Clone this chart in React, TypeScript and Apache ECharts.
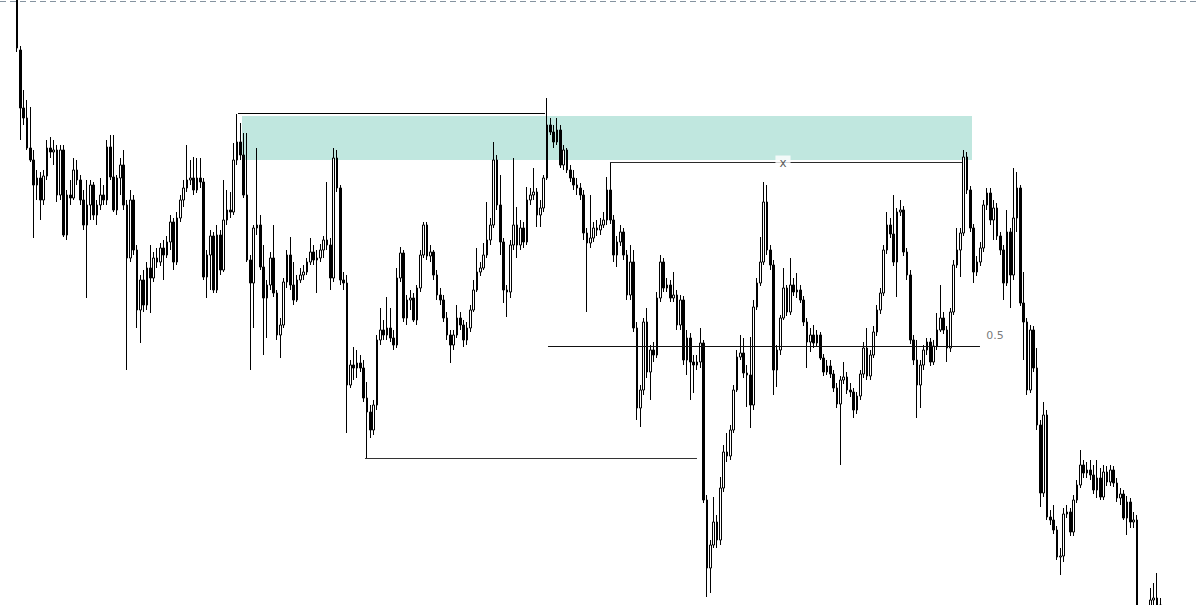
import React, { useEffect, useRef } from "react";
import * as echarts from "echarts";

// Each candle: [open, close, extreme1, extreme2] on an inverted price scale
// (larger number = lower price).
const seg1 = [
  [0, 48, -6, 52], [50, 108, 46, 140], [108, 118, 90, 125], [118, 148, 100, 150], [148, 160, 107, 162],
  [160, 185, 150, 238], [185, 178, 170, 200], [178, 200, 172, 220], [200, 176, 170, 205], [176, 148, 140, 180],
  [148, 152, 137, 158], [152, 150, 140, 165], [150, 195, 145, 202], [195, 150, 145, 200], [150, 235, 145, 237],
  [235, 195, 190, 240], [195, 198, 180, 205], [198, 170, 158, 200], [170, 180, 160, 185], [180, 200, 175, 205],
  [200, 225, 190, 230], [225, 205, 180, 298], [205, 185, 180, 220], [185, 215, 182, 220], [215, 205, 200, 225],
  [205, 195, 178, 210], [195, 200, 185, 205], [200, 147, 140, 205], [147, 177, 135, 180], [177, 210, 135, 212],
];
const seg2 = [
  [210, 178, 175, 215], [178, 165, 158, 195], [165, 205, 150, 210], [205, 258, 200, 370], [258, 200, 190, 262],
  [200, 250, 195, 255], [250, 310, 245, 328], [310, 280, 275, 343], [280, 305, 270, 312], [305, 268, 262, 310],
  [268, 278, 245, 313], [278, 258, 252, 282], [258, 262, 248, 268], [262, 248, 243, 266], [248, 255, 240, 280],
  [255, 242, 236, 258], [242, 222, 215, 250], [222, 262, 218, 270], [262, 218, 212, 265], [218, 200, 195, 222],
  [200, 188, 180, 207], [188, 180, 145, 192], [180, 178, 160, 185], [178, 190, 157, 195], [190, 178, 158, 193],
  [178, 182, 158, 188], [182, 277, 178, 280], [277, 255, 250, 298], [255, 236, 230, 290], [236, 290, 232, 293],
];
const seg3 = [
  [290, 235, 225, 293], [235, 270, 230, 275], [270, 220, 180, 272], [220, 210, 190, 225], [210, 212, 192, 218],
  [212, 160, 143, 215], [160, 142, 114, 165], [142, 155, 123, 160], [155, 195, 133, 198], [195, 260, 133, 262],
  [260, 283, 255, 370], [283, 228, 225, 328], [228, 225, 148, 235], [225, 267, 215, 270], [267, 298, 245, 355],
  [298, 285, 280, 338], [285, 258, 252, 290], [258, 293, 225, 297], [293, 335, 290, 340], [335, 325, 318, 358],
  [325, 282, 278, 328], [282, 255, 250, 288], [255, 285, 237, 290], [285, 300, 262, 305], [300, 280, 275, 302],
  [280, 275, 268, 283], [275, 272, 265, 280], [272, 262, 258, 275], [262, 252, 238, 265], [252, 260, 245, 265],
];
const seg4 = [
  [260, 258, 250, 293], [258, 250, 244, 262], [250, 240, 236, 258], [240, 245, 182, 250], [245, 278, 238, 290],
  [278, 158, 148, 282], [158, 188, 150, 192], [188, 280, 185, 285], [280, 283, 272, 290], [283, 385, 275, 433],
  [385, 365, 360, 388], [365, 368, 347, 380], [368, 363, 350, 378], [363, 368, 355, 372], [368, 398, 360, 402],
  [398, 412, 382, 458], [412, 430, 405, 438], [430, 405, 400, 435], [405, 340, 335, 410], [340, 330, 308, 345],
  [330, 335, 320, 340], [335, 328, 297, 340], [328, 338, 308, 342], [338, 345, 330, 350], [345, 278, 268, 348],
  [278, 253, 247, 282], [253, 318, 250, 322], [318, 300, 295, 325], [300, 298, 290, 310], [298, 320, 293, 322],
];
const seg5 = [
  [320, 288, 285, 325], [288, 255, 250, 292], [255, 225, 222, 258], [225, 256, 222, 260], [256, 252, 245, 262],
  [252, 275, 250, 280], [275, 295, 270, 300], [295, 300, 288, 305], [300, 318, 295, 322], [318, 335, 312, 340],
  [335, 345, 330, 363], [345, 335, 330, 350], [335, 318, 305, 338], [318, 325, 312, 330], [325, 340, 320, 347],
  [340, 328, 322, 345], [328, 310, 305, 332], [310, 290, 280, 312], [290, 272, 248, 292], [272, 268, 262, 276],
  [268, 255, 243, 270], [255, 240, 202, 258], [240, 225, 218, 245], [225, 160, 142, 228], [160, 205, 155, 210],
  [205, 242, 175, 255], [242, 290, 238, 303], [290, 292, 285, 317], [292, 245, 240, 298], [245, 225, 158, 250],
];
const seg6 = [
  [225, 245, 207, 258], [245, 228, 220, 250], [228, 242, 222, 248], [242, 200, 187, 245], [200, 195, 188, 205],
  [195, 192, 168, 200], [192, 215, 188, 227], [215, 208, 200, 227], [208, 178, 175, 212], [178, 125, 98, 180],
  [125, 132, 118, 135], [132, 142, 125, 148], [142, 130, 118, 145], [130, 165, 125, 168], [165, 150, 145, 170],
  [150, 170, 148, 173], [170, 178, 165, 182], [178, 185, 170, 190], [185, 188, 178, 195], [188, 195, 183, 200],
  [195, 233, 190, 240], [233, 243, 228, 312], [243, 238, 195, 248], [238, 228, 222, 242], [228, 230, 220, 236],
  [230, 225, 218, 235], [225, 220, 212, 228], [220, 190, 177, 225], [190, 220, 163, 224], [220, 255, 215, 262],
];
const seg7 = [
  [255, 242, 236, 267], [242, 232, 225, 246], [232, 255, 228, 260], [255, 295, 250, 300], [295, 262, 245, 300],
  [262, 328, 250, 332], [328, 408, 322, 420], [408, 390, 385, 427], [390, 322, 318, 395], [322, 372, 308, 378],
  [372, 350, 345, 400], [350, 355, 342, 362], [355, 298, 292, 358], [298, 262, 255, 302], [262, 288, 258, 292],
  [288, 285, 278, 292], [285, 298, 280, 302], [298, 295, 272, 302], [295, 325, 290, 330], [325, 300, 295, 330],
  [300, 360, 296, 365], [360, 338, 330, 375], [338, 362, 333, 400], [362, 365, 355, 393], [365, 362, 355, 370],
  [362, 343, 328, 368], [343, 500, 340, 503], [500, 568, 495, 597], [568, 545, 540, 593], [545, 522, 497, 548],
];
const seg8 = [
  [522, 540, 515, 548], [540, 488, 477, 545], [488, 452, 445, 492], [452, 456, 433, 462], [456, 430, 425, 460],
  [430, 390, 385, 433], [390, 357, 350, 392], [357, 353, 335, 360], [353, 373, 338, 378], [373, 375, 365, 407],
  [375, 405, 337, 428], [405, 307, 300, 410], [307, 283, 278, 310], [283, 262, 237, 286], [262, 202, 182, 265],
  [202, 250, 185, 255], [250, 265, 245, 270], [265, 370, 260, 395], [370, 350, 345, 387], [350, 318, 315, 355],
  [318, 288, 268, 320], [288, 312, 285, 316], [312, 285, 258, 315], [285, 292, 278, 296], [292, 290, 273, 298],
  [290, 300, 285, 303], [300, 322, 296, 326], [322, 342, 318, 368], [342, 335, 328, 352], [335, 343, 325, 348],
];
const seg9 = [
  [343, 335, 330, 347], [335, 358, 332, 360], [358, 372, 354, 376], [372, 366, 360, 375], [366, 374, 360, 378],
  [374, 388, 370, 392], [388, 404, 383, 408], [404, 380, 376, 465], [380, 377, 362, 384], [377, 390, 372, 394],
  [390, 392, 383, 397], [392, 410, 388, 418], [410, 396, 392, 414], [396, 374, 370, 400], [374, 348, 342, 378],
  [348, 376, 328, 380], [376, 355, 350, 380], [355, 332, 326, 358], [332, 310, 305, 336], [310, 293, 288, 314],
  [293, 250, 245, 296], [250, 225, 212, 254], [225, 234, 218, 238], [234, 262, 195, 266], [262, 212, 208, 297],
  [212, 210, 200, 216], [210, 252, 206, 256], [252, 275, 248, 280], [275, 340, 270, 344], [340, 360, 335, 365],
];
const seg10 = [
  [360, 385, 340, 418], [385, 365, 360, 408], [365, 350, 345, 370], [350, 342, 338, 355], [342, 362, 338, 366],
  [362, 346, 340, 365], [346, 330, 313, 350], [330, 318, 285, 332], [318, 330, 312, 334], [330, 348, 326, 362],
  [348, 312, 308, 352], [312, 265, 260, 315], [265, 250, 228, 268], [250, 233, 228, 277], [233, 157, 150, 236],
  [157, 190, 152, 194], [190, 228, 186, 232], [228, 272, 224, 283], [272, 262, 256, 276], [262, 248, 242, 266],
  [248, 205, 200, 252], [205, 193, 188, 210], [193, 220, 188, 225], [220, 208, 200, 240], [208, 236, 203, 240],
  [236, 250, 232, 255], [250, 283, 245, 300], [283, 232, 210, 286], [232, 275, 228, 308], [275, 218, 168, 280],
];
const seg11 = [
  [218, 188, 172, 232], [188, 303, 185, 306], [303, 322, 272, 360], [322, 390, 318, 395], [390, 330, 325, 393],
  [330, 368, 326, 372], [368, 425, 348, 430], [425, 493, 420, 507], [493, 415, 402, 497], [415, 517, 410, 520],
  [517, 520, 510, 525], [520, 530, 505, 534], [530, 557, 526, 560], [557, 556, 548, 575], [556, 514, 508, 562],
  [514, 512, 505, 518], [512, 532, 508, 536], [532, 500, 495, 536], [500, 485, 480, 503], [485, 465, 450, 488],
  [465, 473, 460, 478], [473, 470, 462, 478], [470, 475, 460, 480], [475, 490, 465, 494], [490, 478, 460, 498],
  [478, 497, 468, 500], [497, 472, 465, 500], [472, 482, 466, 486], [482, 470, 465, 486], [470, 483, 466, 487],
];
const seg12 = [
  [483, 498, 478, 502], [498, 494, 488, 505], [494, 518, 490, 520], [518, 502, 496, 535], [502, 522, 498, 528],
  [522, 520, 512, 528], [520, 640, 515, 650], [640, 650, 630, 660], [650, 640, 630, 655], [640, 620, 612, 645],
  [620, 600, 588, 625], [600, 598, 583, 610], [598, 605, 573, 612], [605, 612, 598, 620],
];

const candles = [
  ...seg1, ...seg2, ...seg3, ...seg4, ...seg5, ...seg6,
  ...seg7, ...seg8, ...seg9, ...seg10, ...seg11, ...seg12,
];
const categories = candles.map((_, i) => String(i));

// Annotation levels (bar index from/to, level)
const levelFrom = [66.3, 177.9, 159.3, 104.4];
const levelTo = [158.4, 283.5, 288.9, 204.0];
const levelValue = [113.5, 162.5, 346.5, 458.5];
const levelColors = ["#000000", "#2a2a2a", "#111111", "#333333"];

const zoneFrom = 67.5;
const zoneTo = 286.5;
const zoneTop = 116;
const zoneBottom = 160;

const labelTexts = ["x", "0.5"];
const labelX = [229.8, 293.4];
const labelY = [162.5, 335];
const labelColors = ["#333333", "#555555"];
const labelSizes = [12, 11];

export default function App() {
  const ref = useRef<HTMLDivElement>(null);

  useEffect(() => {
    if (!ref.current) return;
    const chart = echarts.init(ref.current, undefined, { renderer: "svg" });
    const n = candles.length;
    const band = 3.3333;
    const gridLeft = 17 - band / 2;
    const grid = { left: gridLeft, top: 0, width: band * n, height: 605 };

    const lineSeries = levelFrom.map((f, k) => ({
      type: "line",
      xAxisIndex: 1,
      yAxisIndex: 0,
      z: 4,
      symbol: "none",
      silent: true,
      lineStyle: { color: levelColors[k], width: 1 },
      data: [
        [f, levelValue[k]],
        [levelTo[k], levelValue[k]],
      ],
    }));

    chart.setOption({
      animation: false,
      grid,
      xAxis: [
        { type: "category", data: categories, boundaryGap: true, show: false },
        { type: "value", min: -0.5, max: n - 0.5, show: false },
      ],
      yAxis: { type: "value", inverse: true, min: 0, max: 605, show: false },
      series: [
        {
          type: "line",
          xAxisIndex: 1,
          z: 0,
          symbol: "none",
          silent: true,
          lineStyle: { opacity: 0 },
          data: [],
          markArea: {
            silent: true,
            itemStyle: { color: "#c0e7df" },
            data: [[{ coord: [zoneFrom, zoneTop] }, { coord: [zoneTo, zoneBottom] }]],
          },
        },
        {
          type: "candlestick",
          z: 2,
          data: candles,
          barWidth: 2.4,
          silent: true,
          itemStyle: {
            color: "#000000",
            color0: "#ffffff",
            borderColor: "#000000",
            borderColor0: "#000000",
            borderWidth: 1,
          },
        },
        ...lineSeries,
        {
          type: "scatter",
          xAxisIndex: 1,
          z: 6,
          silent: true,
          symbolSize: 1,
          itemStyle: { color: "rgba(0,0,0,0)" },
          data: labelTexts.map((t, k) => ({
            value: [labelX[k], labelY[k]],
            name: t,
            label: { color: labelColors[k], fontSize: labelSizes[k] },
          })),
          label: {
            show: true,
            position: "inside",
            formatter: (p: any) => p.name,
            fontFamily: "DejaVu Sans",
            fontSize: 11,
            color: "#555",
            backgroundColor: "#fff",
            padding: [1, 4],
          },
        },
      ],
      graphic: [
        {
          type: "line",
          silent: true,
          shape: { x1: 0, y1: 1.5, x2: 1200, y2: 1.5 },
          style: { stroke: "#8593a0", lineWidth: 1, lineDash: [6, 4] },
          z: 10,
        },
      ],
    });
    return () => chart.dispose();
  }, []);

  return (
    <div
      ref={ref}
      style={{ position: "absolute", left: 0, top: 0, width: 1200, height: 605, background: "#fff" }}
    />
  );
}
